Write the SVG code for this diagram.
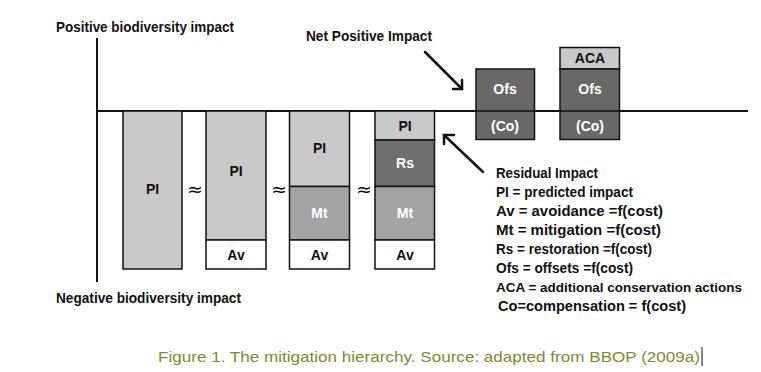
<svg xmlns="http://www.w3.org/2000/svg" width="761" height="372" viewBox="0 0 761 372">
<defs>
<style>
.t{font-family:"Liberation Sans",Arial,sans-serif;font-weight:bold;font-size:14px;fill:#111}
.c{text-anchor:middle}
.w{fill:#fff}
.lg{font-family:"Liberation Sans",Arial,sans-serif;font-weight:bold;font-size:15px;fill:#111}
.box{stroke:#111;stroke-width:1.5}
.pi{fill:#c9c9c9}.mt{fill:#a3a3a3}.rs{fill:#6e6e6e}.of{fill:#686868}.av{fill:#fff}
.ax{stroke:#111;stroke-width:2;fill:none}
.ar{stroke:#111;stroke-width:2.5;fill:none;stroke-linecap:round;stroke-linejoin:miter}
.sym{font-family:"DejaVu Sans",sans-serif;font-size:19px;fill:#111;text-anchor:middle}
</style>
</defs>
<rect width="761" height="372" fill="#fff"/>
<g id="axes">
<line class="ax" x1="97" y1="38" x2="97" y2="282"/>
<line class="ax" x1="97" y1="111" x2="748" y2="111"/>
<text class="lg" x="56" y="32" textLength="178" lengthAdjust="spacingAndGlyphs">Positive biodiversity impact</text>
<text class="lg" x="56" y="303" textLength="185" lengthAdjust="spacingAndGlyphs">Negative biodiversity impact</text>
</g>
<g id="bar1">
<rect class="box pi" x="123" y="111" width="59" height="158"/>
<text class="t c" x="152.5" y="194">PI</text>
</g>
<g id="bar2">
<rect class="box pi" x="206" y="111" width="60" height="129"/>
<rect class="box av" x="206" y="240" width="60" height="29"/>
<text class="t c" x="236" y="176">PI</text>
<text class="t c" x="236" y="260">Av</text>
</g>
<g id="bar3">
<rect class="box pi" x="289.5" y="111" width="60" height="75.5"/>
<rect class="box mt" x="289.5" y="186.5" width="60" height="53.5"/>
<rect class="box av" x="289.5" y="240" width="60" height="29"/>
<text class="t c" x="319.5" y="153">PI</text>
<text class="t c w" x="319.5" y="218">Mt</text>
<text class="t c" x="319.5" y="260">Av</text>
</g>
<g id="bar4">
<rect class="box pi" x="375" y="111" width="59.5" height="29"/>
<rect class="box rs" x="375" y="140" width="59.5" height="46.5"/>
<rect class="box mt" x="375" y="186.5" width="59.5" height="53.5"/>
<rect class="box av" x="375" y="240" width="59.5" height="29"/>
<text class="t c" x="405" y="131">PI</text>
<text class="t c w" x="405" y="168">Rs</text>
<text class="t c w" x="405" y="218">Mt</text>
<text class="t c" x="405" y="260">Av</text>
</g>
<g id="approx">
<text class="sym" x="195" y="196">≈</text>
<text class="sym" x="279" y="196">≈</text>
<text class="sym" x="364" y="196">≈</text>
</g>
<g id="offset1">
<rect class="box of" x="476" y="69" width="58.5" height="70.5"/>
<text class="t c w" x="505" y="94">Ofs</text>
<text class="t c w" x="505" y="131">(Co)</text>
</g>
<g id="offset2">
<rect class="box pi" x="560" y="47.5" width="59.5" height="21.5"/>
<rect class="box of" x="560" y="69" width="59.5" height="70.5"/>
<line x1="476" y1="111" x2="619.5" y2="111" stroke="#111" stroke-width="1.5"/>
<text class="t c" x="590" y="63">ACA</text>
<text class="t c w" x="590" y="94">Ofs</text>
<text class="t c w" x="590" y="131">(Co)</text>
</g>
<g id="net-positive-label">
<text class="lg" x="306" y="41" textLength="126" lengthAdjust="spacingAndGlyphs">Net Positive Impact</text>
</g>
<g id="connectors">
<line class="ar" x1="425" y1="52" x2="462" y2="89"/>
<polyline class="ar" points="453,89 462,89 462,80"/>
<line class="ar" x1="483" y1="172" x2="444" y2="135"/>
<polyline class="ar" points="444,144 444,135 454,135"/>
</g>
<g id="legend">
<text class="lg" x="496" y="178" textLength="102" lengthAdjust="spacingAndGlyphs">Residual Impact</text>
<text class="lg" x="496" y="197" textLength="137" lengthAdjust="spacingAndGlyphs">PI = predicted impact</text>
<text class="lg" x="496" y="216" textLength="167" lengthAdjust="spacingAndGlyphs">Av = avoidance  =f(cost)</text>
<text class="lg" x="496" y="235" textLength="165" lengthAdjust="spacingAndGlyphs">Mt = mitigation =f(cost)</text>
<text class="lg" x="496" y="254" textLength="156" lengthAdjust="spacingAndGlyphs">Rs = restoration =f(cost)</text>
<text class="lg" x="496" y="273" textLength="137" lengthAdjust="spacingAndGlyphs">Ofs = offsets =f(cost)</text>
<text class="lg" x="496" y="292" font-size="13.5" style="font-size:13.5px" textLength="246" lengthAdjust="spacingAndGlyphs">ACA = additional conservation actions</text>
<text class="lg" x="498" y="311" textLength="188" lengthAdjust="spacingAndGlyphs">Co=compensation = f(cost)</text>
</g>
<g id="caption">
<text x="158" y="362" font-family="'Liberation Sans',Arial,sans-serif" font-size="15" fill="#7f8a2a" textLength="542" lengthAdjust="spacingAndGlyphs">Figure 1. The mitigation hierarchy. Source: adapted from BBOP (2009a)</text>
<line x1="702" y1="347" x2="702" y2="366" stroke="#111" stroke-width="1"/>
</g>
</svg>
